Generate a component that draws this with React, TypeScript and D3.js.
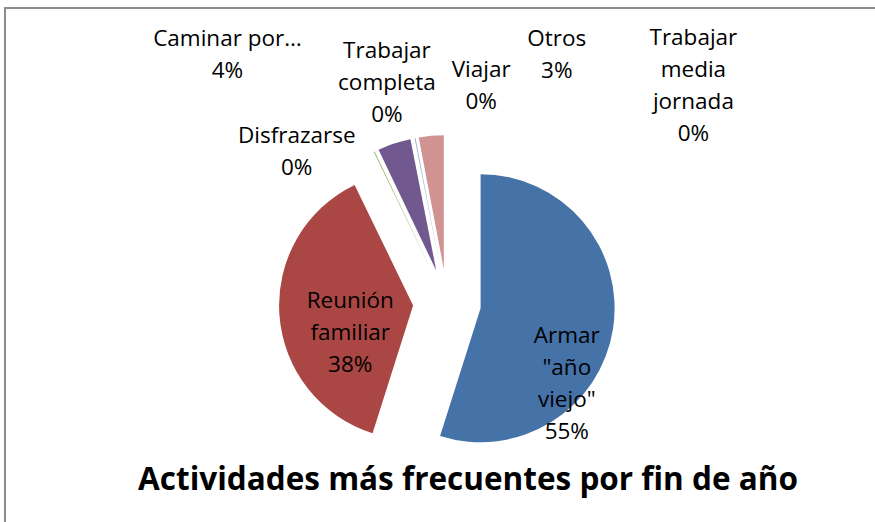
import React, { useEffect, useRef } from "react";
import * as d3 from "d3";

// categories in Excel order, clockwise from 12 o'clock
const categories = [
  "Armar \"año viejo\"",
  "Reunión familiar",
  "Disfrazarse",
  "Caminar por…",
  "Trabajar completa",
  "Viajar",
  "Otros",
  "Trabajar media jornada",
];
const values = [55, 38, 0.1, 4, 0.1, 0, 3, 0];
const percentLabels = ["55%", "38%", "0%", "4%", "0%", "0%", "3%", "0%"];
const colors = ["#4572A7", "#AA4643", "#89A54E", "#71588F", "#93A9CF", "#DB843D", "#D19392", "#A47D7C"];

// label text split into lines as Excel wrapped them
const labelLines = [
  ["Armar", "\"año", "viejo\""],
  ["Reunión", "familiar"],
  ["Disfrazarse"],
  ["Caminar por…"],
  ["Trabajar", "completa"],
  ["Viajar"],
  ["Otros"],
  ["Trabajar", "media", "jornada"],
];
// label placement (angle in degrees clockwise from top, distance from pie centre)
const labelPolar = [
  [123.7, 144],
  [253.4, 101],
  [315.4, 214],
  [318.6, 332],
  [344.8, 229],
  [8.9, 221],
  [23.8, 272],
  [48.5, 329],
];

const title = "Actividades más frecuentes por fin de año";

const W = 875;
const H = 522;

export default function App() {
  const svgRef = useRef<SVGSVGElement>(null);

  useEffect(() => {
    const svg = d3.select(svgRef.current);
    svg.selectAll("*").remove();

    const cx = 447;
    const cy = 303;
    const radius = 134;
    const explode = 34;
    const lineH = 32;

    svg.append("rect")
      .attr("x", 5).attr("y", 8)
      .attr("width", W + 20).attr("height", H + 20)
      .attr("fill", "white")
      .attr("stroke", "#8c8c8c")
      .attr("stroke-width", 2);

    const pie = d3.pie<number>().sort(null).value((d) => d);
    const arcs = pie(values);
    const arc = d3.arc<d3.PieArcDatum<number>>().innerRadius(0).outerRadius(radius);

    const g = svg.append("g").attr("transform", `translate(${cx},${cy})`);

    g.selectAll("path")
      .data(arcs)
      .enter()
      .append("path")
      .attr("d", arc)
      .attr("fill", (_, i) => colors[i])
      .attr("transform", (d) => {
        const mid = (d.startAngle + d.endAngle) / 2;
        return `translate(${Math.sin(mid) * explode},${-Math.cos(mid) * explode})`;
      });

    // data labels
    categories.forEach((_, i) => {
      const [deg, dist] = labelPolar[i];
      const a = (deg * Math.PI) / 180;
      const x = cx + Math.sin(a) * dist;
      const y = cy - Math.cos(a) * dist;
      const lines = [...labelLines[i], percentLabels[i]];
      const top = y - ((lines.length - 1) * lineH) / 2;
      const t = svg.append("text")
        .attr("text-anchor", "middle")
        .attr("font-family", "'Open Sans', Lato, sans-serif")
        .attr("font-size", 22.5)
        .attr("fill", "#000");
      lines.forEach((ln, k) => {
        t.append("tspan")
          .attr("x", x)
          .attr("y", top + k * lineH)
          .attr("dy", "0.35em")
          .text(ln);
      });
    });

    svg.append("text")
      .attr("x", 468)
      .attr("y", 479)
      .attr("dy", "0.35em")
      .attr("text-anchor", "middle")
      .attr("font-family", "'Open Sans', Lato, sans-serif")
      .attr("font-weight", "bold")
      .attr("font-size", 31.5)
      .attr("fill", "#000")
      .text(title);
  }, []);

  return (
    <svg
      ref={svgRef}
      width={W}
      height={H}
      style={{ position: "absolute", left: 0, top: 0, background: "white" }}
    />
  );
}
